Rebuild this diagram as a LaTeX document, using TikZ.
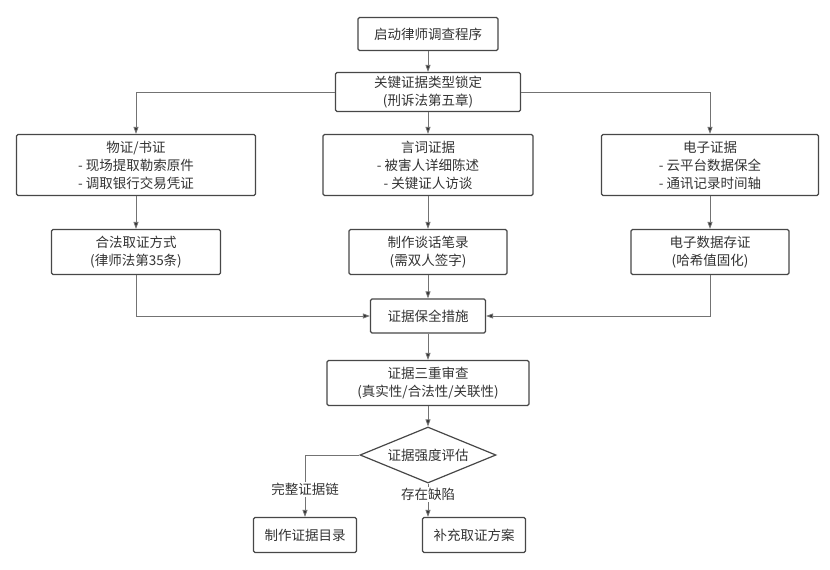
\documentclass[tikz,border=0pt]{standalone}
\usepackage{fontspec}
\setmainfont{Noto Sans CJK SC}
\usetikzlibrary{arrows.meta,shapes.geometric}

\begin{document}
\begin{tikzpicture}[
    x=1pt, y=-1pt,
    nosep/.style={inner sep=0},
    box/.style={rectangle, draw=black!72, line width=1.2pt, rounded corners=1.5pt, fill=white, text=black!80,
        align=center, nosep, font=\fontsize{13.5}{18}\selectfont},
    decide/.style={diamond, draw=black!72, line width=1.2pt, fill=white, text=black!80, nosep,
        minimum width=136pt, minimum height=56pt, aspect=2.4, font=\fontsize{13.5}{18}\selectfont},
    link/.style={draw=black!55, line width=0.8pt, -{Triangle[length=7pt, width=5pt, fill=black!80]}},
    tag/.style={fill=white, text=black!80, nosep, inner ysep=1pt, font=\fontsize{13.5}{18}\selectfont}]
\useasboundingbox (0,0) rectangle (830,570);

\node[box, minimum width=140pt, minimum height=33pt] (start)  at (428,34)  {启动律师调查程序};
\node[box, minimum width=185pt, minimum height=39pt] (lock)   at (428,92)  {关键证据类型锁定\\(刑诉法第五章)};
\node[box, minimum width=239pt, minimum height=61pt] (phys)   at (136,165) {物证/书证\\- 现场提取勒索原件\\- 调取银行交易凭证};
\node[box, minimum width=210pt, minimum height=61pt] (oral)   at (428,165) {言词证据\\- 被害人详细陈述\\- 关键证人访谈};
\node[box, minimum width=217pt, minimum height=61pt] (elec)   at (710,165) {电子证据\\- 云平台数据保全\\- 通讯记录时间轴};
\node[box, minimum width=169pt, minimum height=45pt] (legal)  at (136,252) {合法取证方式\\(律师法第35条)};
\node[box, minimum width=158pt, minimum height=45pt] (note)   at (428,252) {制作谈话笔录\\(需双人签字)};
\node[box, minimum width=158pt, minimum height=45pt] (hash)   at (710,252) {电子数据存证\\(哈希值固化)};
\node[box, minimum width=115pt, minimum height=34pt] (keep)   at (428,316) {证据保全措施};
\node[box, minimum width=202pt, minimum height=45pt] (review) at (428,383) {证据三重审查\\(真实性/合法性/关联性)};
\node[decide] (assess) at (428,455) {证据强度评估};
\node[box, minimum width=103pt, minimum height=35pt] (catalog) at (305,535) {制作证据目录};
\node[box, minimum width=103pt, minimum height=35pt] (plan)    at (474,535) {补充取证方案};

\path[link] (start) -- (lock);
\path[link] (lock.west) -| (phys);
\path[link] (lock) -- (oral);
\path[link] (lock.east) -| (elec);
\path[link] (phys) -- (legal);
\path[link] (oral) -- (note);
\path[link] (elec) -- (hash);
\path[link] (legal.south) |- (keep.west);
\path[link] (note) -- (keep);
\path[link] (hash.south) |- (keep.east);
\path[link] (keep) -- (review);
\path[link] (review) -- (assess);
\path[link] (assess.west) -| (catalog.north) node[tag, pos=0.78] (whole) {完整证据链};
\path[link] (assess.south) -- (assess.south |- plan.north) node[tag, pos=0.33] (flaw) {存在缺陷};

\end{tikzpicture}
\end{document}
